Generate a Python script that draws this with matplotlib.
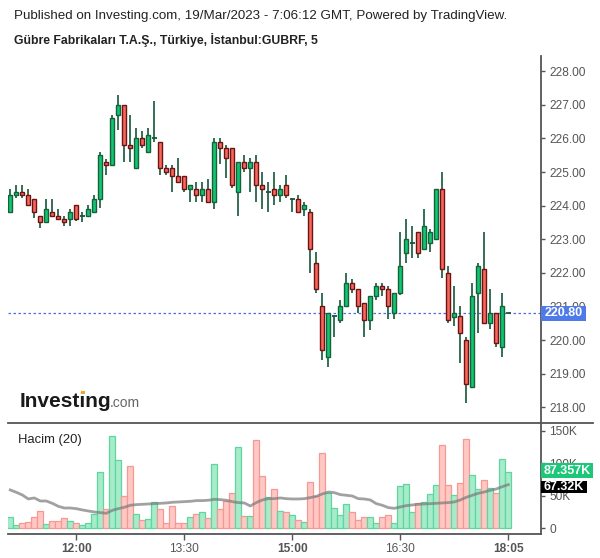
import matplotlib
matplotlib.use("Agg")
import matplotlib.pyplot as plt
from matplotlib.patches import Rectangle
from matplotlib.lines import Line2D
import numpy as np

plt.rcParams['font.family'] = ['Liberation Sans', 'DejaVu Sans']

title_line1 = "Published on Investing.com, 19/Mar/2023 - 7:06:12 GMT, Powered by TradingView."
title_line2 = "Gübre Fabrikaları T.A.Ş., Türkiye, İstanbul:GUBRF, 5"
volume_title = "Hacim (20)"

opens = [223.80, 224.32, 224.40, 224.32, 224.19, 223.68, 223.50, 223.80, 223.68, 223.59,
         223.59, 224.01, 223.68, 223.68, 223.80, 224.19, 225.29, 225.20, 226.69, 226.99,
         225.80, 225.11, 226.00, 225.59, 226.00, 225.89, 225.11, 225.11, 224.89, 224.89,
         224.49, 224.49, 224.31, 224.49, 224.10, 225.89, 225.71, 225.71, 224.40, 225.29,
         225.11, 225.29, 224.61, 224.40, 224.49, 224.31, 224.61, 224.19, 224.19, 223.89,
         223.80, 222.29, 221.01, 219.49, 220.71, 220.59, 221.01, 221.69, 221.51, 221.09,
         220.59, 221.30, 221.60, 221.51, 220.80, 221.39, 222.60, 222.90, 223.22, 222.70,
         222.90, 223.00, 224.49, 221.99, 220.70, 220.71, 220.00, 218.59, 221.39, 222.11,
         220.50, 220.80, 219.78, 220.80]
highs = [224.50, 224.62, 224.62, 224.50, 224.19, 223.68, 224.19, 224.19, 223.89, 223.68,
         223.89, 224.01, 223.80, 224.01, 224.32, 225.59, 225.40, 226.70, 227.29, 226.99,
         226.70, 226.30, 226.22, 226.30, 227.12, 225.89, 225.21, 225.21, 225.41, 224.89,
         224.61, 224.70, 224.70, 224.79, 226.00, 226.00, 225.80, 225.71, 225.29, 225.50,
         225.41, 225.50, 225.00, 224.70, 225.00, 224.61, 224.90, 224.19, 224.31, 224.10,
         223.89, 222.61, 221.39, 220.80, 220.71, 221.19, 222.00, 221.81, 221.51, 221.09,
         221.30, 221.69, 221.69, 221.60, 221.39, 223.22, 223.59, 223.40, 223.22, 223.90,
         223.30, 224.49, 224.99, 222.21, 221.61, 221.02, 220.10, 221.69, 222.29, 223.23,
         221.51, 220.80, 221.41, 220.80]
lows = [223.80, 224.22, 224.22, 224.02, 223.62, 223.33, 223.50, 223.68, 223.59, 223.41,
        223.41, 223.53, 223.52, 223.68, 223.80, 223.92, 224.91, 225.20, 226.24, 225.31,
        225.31, 225.11, 225.71, 225.59, 225.91, 224.91, 224.91, 224.42, 224.70, 224.42,
        224.12, 224.12, 224.12, 224.10, 223.91, 225.23, 224.81, 224.52, 223.70, 225.01,
        224.42, 224.12, 223.91, 223.82, 224.03, 224.12, 224.22, 223.82, 223.80, 223.70,
        222.01, 221.41, 219.42, 219.21, 220.10, 220.52, 221.01, 221.41, 220.82, 220.10,
        220.31, 221.20, 221.32, 220.62, 220.62, 221.33, 222.30, 222.43, 222.43, 222.70,
        222.63, 223.00, 221.84, 220.52, 220.42, 219.33, 218.12, 218.59, 220.22, 220.50,
        220.32, 219.80, 219.51, 220.80]
closes = [224.32, 224.40, 224.32, 224.02, 223.80, 223.50, 223.89, 223.68, 223.59, 223.50,
          223.80, 223.59, 223.68, 223.89, 224.19, 225.50, 225.20, 226.60, 226.99, 225.80,
          225.71, 226.00, 225.80, 226.09, 226.00, 225.11, 224.99, 224.89, 224.70, 224.49,
          224.61, 224.31, 224.49, 224.10, 225.89, 225.71, 225.41, 224.61, 225.29, 225.11,
          225.29, 224.61, 224.49, 224.40, 224.31, 224.49, 224.31, 224.19, 223.80, 224.01,
          222.70, 221.51, 219.70, 220.80, 220.71, 221.01, 221.69, 221.51, 221.01, 220.59,
          221.30, 221.60, 221.51, 221.01, 221.39, 222.21, 223.00, 222.90, 222.60, 223.40,
          223.22, 224.49, 222.11, 220.60, 220.80, 220.20, 218.68, 221.30, 222.21, 220.50,
          220.80, 219.90, 221.01, 220.80]
volumes_k = [17, 4.6, 7.7, 9.8, 17, 26.7, 6.2, 10.8, 10.8, 15.4,
             10.8, 7.7, 4.6, 7.7, 21.6, 86.3, 29.3, 142, 104.8, 49.3,
             95.6, 21.6, 12.8, 14.4, 40, 29.3, 7.7, 33.9, 7.7, 7.7,
             17, 21.6, 24.7, 15.4, 99.2, 29.3, 41.6, 54, 124.9, 18.5,
             18.5, 135.7, 80.2, 47.8, 60.1, 26.2, 24.7, 20.0, 12.8, 9.2,
             70.9, 49.3, 115.6, 54, 30.8, 20, 37, 24.7, 12.3, 17,
             17, 7.7, 17, 20, 7.7, 64.7, 67.8, 24.7, 38.5, 40,
             52.4, 66.3, 128, 66.3, 50.9, 69.4, 137.2, 81.7, 60.1, 74,
             61.7, 54, 106.4, 87.357]
volume_ma_k = [59.1, 55.5, 51.4, 45.2, 46.8, 42.1, 42.1, 38.5, 33.9, 31.3,
               31.3, 30.3, 28.3, 26.7, 25.2, 24.2, 23.1, 27.7, 30.3, 32.4,
               35.5, 36.5, 37.0, 37.5, 38.0, 38.5, 39.1, 40.1, 40.6, 41.1,
               41.6, 42.7, 42.7, 43.2, 44.7, 44.2, 43.2, 41.1, 39.6, 39.1,
               34.4, 39.6, 43.7, 45.7, 45.7, 46.8, 45.7, 45.2, 45.2, 45.7,
               47.3, 49.3, 52.9, 56.0, 55.0, 51.9, 50.9, 49.8, 45.7, 45.2,
               43.7, 38.0, 35.5, 31.9, 30.8, 32.9, 34.9, 36.0, 37.0, 37.5,
               38.0, 38.5, 39.1, 39.6, 40.6, 43.7, 47.8, 50.9, 54.0, 56.0,
               58.6, 60.6, 64.2, 67.32]
last_price = 220.80
last_price_label = "220.80"
last_volume_label = "87.357K"
last_ma_label = "67.32K"
time_tick_bars = [11, 29, 47, 65, 83]
time_tick_labels = ["12:00", "13:30", "15:00", "16:30", "18:05"]
time_tick_bold = [True, False, True, False, True]
price_ticks = [218, 219, 220, 221, 222, 223, 224, 225, 226, 227, 228]
volume_ticks = [0, 50, 100, 150]
volume_tick_labels = ["0", "50K", "100K", "150K"]

W, H = 600, 558
fig = plt.figure(figsize=(W / 100, H / 100), dpi=100)
fig.patch.set_facecolor("white")


def fx(px):
    return px / W


def fy(py):
    return 1 - py / H


L, R = 8, 541
main_top, main_bot = 56, 423
vol_top, vol_bot = 423, 533.5
AXIS_COL = "#555555"

ax = fig.add_axes([fx(L), fy(main_bot), (R - L) / W, (main_bot - main_top) / H])
axv = fig.add_axes([fx(L), fy(vol_bot), (R - L) / W, (vol_bot - vol_top) / H], sharex=ax)

o = np.array(opens); h = np.array(highs); lo = np.array(lows); c = np.array(closes)
n = len(o)
x = np.arange(n)
up = c >= o

GREEN_FILL, GREEN_EDGE = "#0fc671", "#17603b"
RED_FILL, RED_EDGE = "#f8675c", "#6a1414"
WICK = "#14583a"

ax.vlines(x, lo, h, color=WICK, lw=1.2, zorder=2)
body_b = np.minimum(o, c)
body_h = np.abs(c - o)
m = body_h > 0.001
fills = np.where(up, GREEN_FILL, RED_FILL)
edges = np.where(up, GREEN_EDGE, RED_EDGE)
ax.bar(x[m], body_h[m], bottom=body_b[m], width=0.62, color=fills[m],
       edgecolor=edges[m], linewidth=1.0, zorder=3)
ax.hlines(c[~m], x[~m] - 0.4, x[~m] + 0.4, color=WICK, lw=1.3, zorder=3)

ax.axhline(last_price, color="#4a6ee0", lw=0.9, ls=(0, (2, 2)), zorder=1)

ax.set_xlim(-0.383, 88.45)
ax.set_ylim(217.533, 228.455)
for s in ["top", "left", "bottom"]:
    ax.spines[s].set_visible(False)
ax.spines["right"].set_color(AXIS_COL)
ax.spines["right"].set_linewidth(1.3)
ax.yaxis.tick_right()
ax.set_yticks(price_ticks)
ax.set_yticklabels([f"{v:.2f}" for v in price_ticks])
ax.tick_params(axis="y", length=3, width=1, color=AXIS_COL, labelcolor=AXIS_COL,
               labelsize=8.6, pad=3)
ax.tick_params(axis="x", bottom=False, labelbottom=False)

# Volume pane
vol = np.array(volumes_k)
vfill = np.where(up, "#a8ebcb", "#ffc8c4")
vedge = np.where(up, "#5cd79e", "#f49a93")
axv.bar(x, vol, width=1.0, color=vfill, edgecolor=vedge, linewidth=0.9, zorder=2)
axv.plot(x, volume_ma_k, color="#7a7a7a", lw=2.0, alpha=0.7, zorder=3)
axv.set_ylim(-8.0, 162.3)
axv.spines["top"].set_visible(False)
axv.spines["left"].set_visible(False)
for s in ["right", "bottom"]:
    axv.spines[s].set_color(AXIS_COL)
    axv.spines[s].set_linewidth(1.3)
axv.yaxis.tick_right()
axv.set_yticks(volume_ticks)
axv.set_yticklabels(volume_tick_labels)
axv.tick_params(axis="y", length=3, width=1, color=AXIS_COL, labelcolor=AXIS_COL,
                labelsize=8.6, pad=3)
axv.set_xticks(time_tick_bars)
axv.set_xticklabels(time_tick_labels)
axv.tick_params(axis="x", length=4, width=1, color=AXIS_COL, labelcolor=AXIS_COL,
                labelsize=8.6, pad=2.5)
for lab, b in zip(axv.get_xticklabels(), time_tick_bold):
    if b:
        lab.set_fontweight("bold")

# separator line
fig.add_artist(Line2D([fx(8), fx(593)], [fy(423), fy(423)], color=AXIS_COL, lw=1.3))


def data_to_py(axis, v):
    return H - axis.transData.transform((0, v))[1]


# price label
py = data_to_py(ax, last_price)
bh = 15.3
fig.add_artist(Rectangle((fx(541), fy(py + bh / 2)), 45 / W, bh / H, transform=fig.transFigure,
                         facecolor="#4f7be8", edgecolor="none", zorder=10))
fig.text(fx(563.5), fy(py), last_price_label, color="white", fontsize=9, fontweight="bold",
         ha="center", va="center", zorder=11)

# volume labels
py1 = data_to_py(axv, vol[-1])
py2 = data_to_py(axv, volume_ma_k[-1])
h1, h2 = 15.6, 12.3
c1 = py1 - 1.0
c2 = max(py2, c1 + h1 / 2 + 2.7 + h2 / 2)
fig.add_artist(Rectangle((fx(541), fy(c1 + h1 / 2)), 52 / W, h1 / H, transform=fig.transFigure,
                         facecolor="#1ec67a", edgecolor="none", zorder=10))
fig.text(fx(567), fy(c1), last_volume_label, color="white", fontsize=9, fontweight="bold",
         ha="center", va="center", zorder=11)
fig.add_artist(Rectangle((fx(541), fy(c2 + h2 / 2)), 46 / W, h2 / H, transform=fig.transFigure,
                         facecolor="black", edgecolor="none", zorder=10))
fig.text(fx(564), fy(c2), last_ma_label, color="white", fontsize=9, fontweight="bold",
         ha="center", va="center", zorder=11)

# texts
fig.text(fx(14), fy(16), title_line1, fontsize=9.6, color="#222222", va="center", ha="left")
fig.text(fx(14), fy(40), title_line2, fontsize=8.8, fontweight="bold", color="#222222",
         va="center", ha="left")
fig.text(fx(18), fy(440), volume_title, fontsize=9.4, color="#222222", va="center", ha="left")

# logo
fig.text(fx(20), fy(407), "Investing", fontsize=15, fontweight="bold", color="#1a1a1a",
         va="baseline", ha="left")
fig.text(fx(110), fy(407), ".com", fontsize=10, color="#666666", va="baseline", ha="left")
fig.add_artist(Rectangle((fx(81), fy(394)), 3.5 / W, 3.5 / H, transform=fig.transFigure,
                         facecolor="#f5a623", edgecolor="none", zorder=5))

fig.savefig("out.png", dpi=100, facecolor="white")
